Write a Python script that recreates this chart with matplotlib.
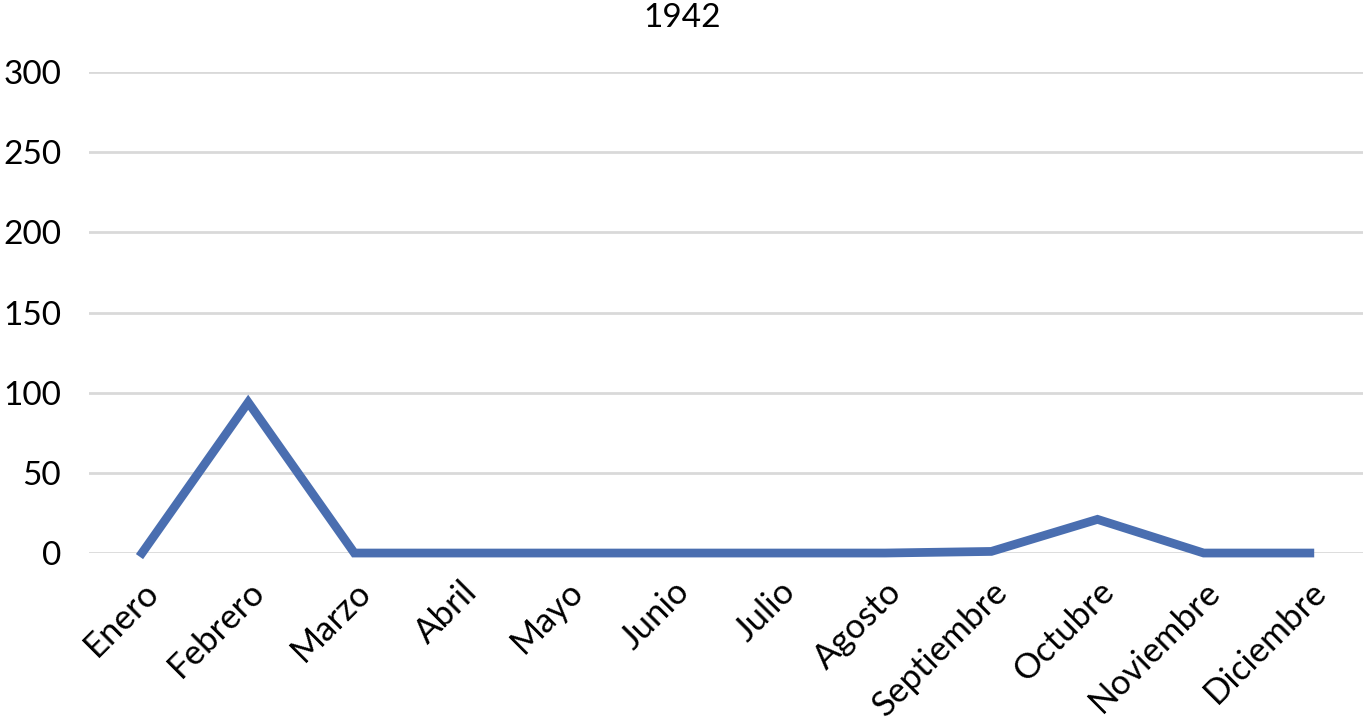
import matplotlib.pyplot as plt

plt.rcParams['font.family'] = ['Lato', 'DejaVu Sans']

meses = ['Enero', 'Febrero', 'Marzo', 'Abril', 'Mayo', 'Junio', 'Julio',
         'Agosto', 'Septiembre', 'Octubre', 'Noviembre', 'Diciembre']
valores = [0, 94, 0, 0, 0, 0, 0, 0, 1, 21, 0, 0]
yticks = [0, 50, 100, 150, 200, 250, 300]

fig = plt.figure(figsize=(13.64, 7.2), dpi=100)
ax = fig.add_axes([0.0652, 0.2319, 0.934, 0.6681])

x = list(range(len(meses)))
ax.plot(x, valores, color='#4A6EB0', linewidth=6.3, solid_joinstyle='miter',
        clip_on=False, zorder=3)

ax.set_xlim(-0.5, len(meses) - 0.5)
ax.set_ylim(0, 300)
ax.set_yticks(yticks)
ax.set_yticklabels([str(v) for v in yticks], fontsize=24)
ax.set_xticks(x)
ax.set_xticklabels(meses, fontsize=25, rotation=45, ha='right',
                   rotation_mode='anchor')
ax.tick_params(axis='both', length=0)
ax.tick_params(axis='y', pad=20)
ax.tick_params(axis='x', pad=16)

# lineas de la grilla horizontales, gris claro
ax.grid(axis='y', color='#D9D9D9', linewidth=2)
ax.set_axisbelow(True)
for s in ax.spines.values():
    s.set_visible(False)

fig.text(0.5, 0.975, '1942', fontsize=24, ha='center', va='center')

fig.savefig('out.png', dpi=100)
